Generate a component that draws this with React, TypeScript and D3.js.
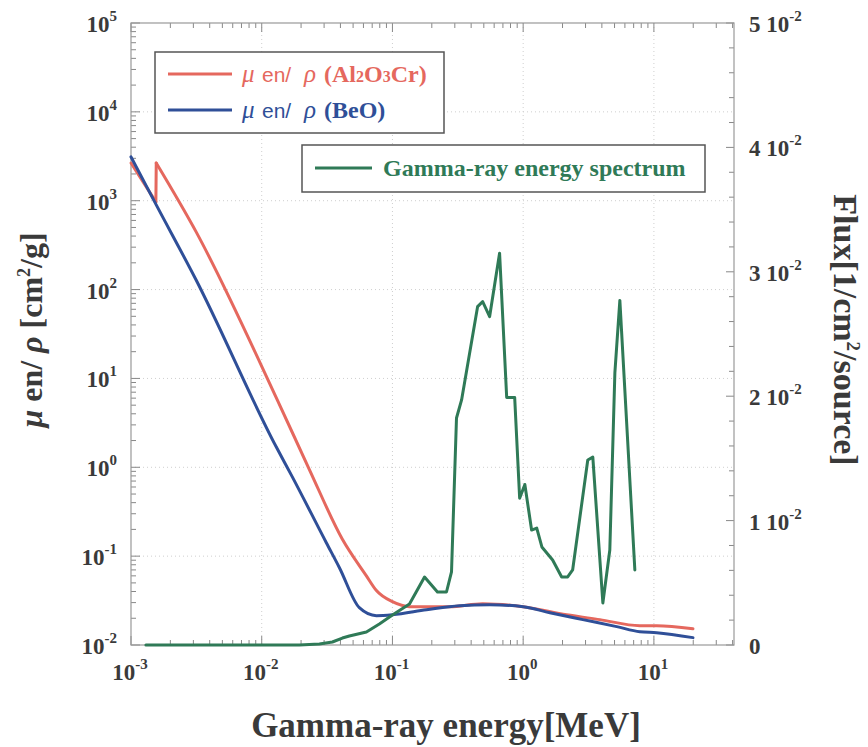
import React from "react";
import * as d3 from "d3";

// ---- data ----
// Al2O3Cr: below and above the Al K-edge
const energyAlLow = [0.001, 0.00155];
const muAlLow = [2660, 970];
const energyAlHigh = [0.00156, 0.00315, 0.01315, 0.0231, 0.0414, 0.0632, 0.0754, 0.1, 0.135, 0.273, 0.49, 1.0, 2.15, 3.86, 7.81, 10.5, 19.9];
const muAlHigh = [2660, 446, 5.74, 0.95, 0.155, 0.06, 0.041, 0.0307, 0.027, 0.027, 0.0292, 0.027, 0.0219, 0.0193, 0.0165, 0.0165, 0.0152];

const energyBeO = [0.001, 0.00156, 0.00315, 0.0129, 0.01714, 0.0312, 0.0393, 0.0558, 0.0754, 0.1, 0.182, 0.326, 0.553, 1.0, 1.6, 2.86, 5.2, 7.81, 10.5, 19.9];
const muBeO = [3110, 897, 128, 1.7, 0.78, 0.1416, 0.0741, 0.0263, 0.0214, 0.0219, 0.0249, 0.0277, 0.0284, 0.027, 0.0231, 0.0193, 0.0161, 0.0141, 0.01375, 0.0121];

const energySpec = [0.0013, 0.0194, 0.0276, 0.0347, 0.0414, 0.0468, 0.0632, 0.0794, 0.1, 0.135, 0.176, 0.221, 0.259, 0.283, 0.309, 0.338, 0.448, 0.49, 0.554, 0.66, 0.748, 0.861, 0.94, 1.03, 1.16, 1.27, 1.39, 1.68, 1.97, 2.19, 2.39, 3.12, 3.41, 4.07, 4.6, 5.03, 5.49, 7.15];
const fluxSpec = [0, 0, 0.00008, 0.00024, 0.00056, 0.00072, 0.00105, 0.00169, 0.00241, 0.0033, 0.00547, 0.00426, 0.00426, 0.00587, 0.01825, 0.0197, 0.0272, 0.0276, 0.0264, 0.0315, 0.0199, 0.0199, 0.0118, 0.0129, 0.00924, 0.0094, 0.00788, 0.00683, 0.00547, 0.00547, 0.00603, 0.01487, 0.0151, 0.00338, 0.00764, 0.0219, 0.0277, 0.00603];

const xTickExps = [-3, -2, -1, 0, 1];
const yTickExps = [-2, -1, 0, 1, 2, 3, 4, 5];
const fluxTickValues = [0, 0.01, 0.02, 0.03, 0.04, 0.05];
const fluxTickMantissa = ["0", "1", "2", "3", "4", "5"];

const legendBeOLabel = "(BeO)";
const legendSpecLabel = "Gamma-ray energy spectrum";
const xTitle = "Gamma-ray energy[MeV]";

const RED = "#e5685e";
const BLUE = "#2f4f98";
const GREEN = "#2f7a57";
const SERIF = "'Liberation Serif', 'Times New Roman', serif";
const SANS = "'Liberation Sans', Arial, sans-serif";

export default function App() {
  const L = 131, R = 734, T = 23, B = 645;
  const x = d3.scaleLog().domain([1e-3, 41]).range([L, R]);
  const y = d3.scaleLog().domain([1e-2, 1e5]).range([B, T]);
  const yr = d3.scaleLinear().domain([0, 0.05]).range([B, T]);

  const lineMono = d3.line<[number, number]>().x((d) => x(d[0])).y((d) => y(d[1])).curve(d3.curveMonotoneX);
  const lineLin = d3.line<[number, number]>().x((d) => x(d[0])).y((d) => y(d[1]));
  const lineR = d3.line<[number, number]>().x((d) => x(d[0])).y((d) => yr(d[1]));

  const alLow = energyAlLow.map((e, i) => [e, muAlLow[i]] as [number, number]);
  const alHigh = energyAlHigh.map((e, i) => [e, muAlHigh[i]] as [number, number]);
  const alEdge: [number, number][] = [alLow[alLow.length - 1], alHigh[0]];
  const beoPts = energyBeO.map((e, i) => [e, muBeO[i]] as [number, number]);
  const specPts = energySpec.map((e, i) => [e, fluxSpec[i]] as [number, number]);

  const xMinor: number[] = [];
  for (const d of xTickExps) for (let m = 2; m <= 9; m++) { const v = m * Math.pow(10, d); if (v < 41) xMinor.push(v); }
  const yMinor: number[] = [];
  for (const d of yTickExps.slice(0, -1)) for (let m = 2; m <= 9; m++) yMinor.push(m * Math.pow(10, d));
  const rMinor: number[] = [];
  for (let k = 1; k < 25; k++) if (k % 5 !== 0) rMinor.push(k * 0.002);

  const tickC = "#888";
  const gridC = "#cfcfcf";
  const labC = "#3a3a3a";

  const legendMu = (yy: number, color: string, tail: React.ReactNode) => (
    <g fill={color}>
      <text x={242} y={yy} fontFamily={SERIF} fontStyle="italic" fontSize={25}>μ</text>
      <text x={262} y={yy} fontFamily={SANS} fontSize={21}>en/</text>
      <text x={304} y={yy} fontFamily={SERIF} fontStyle="italic" fontSize={25}>ρ</text>
      <text x={324} y={yy} fontFamily={SERIF} fontWeight="bold" fontSize={24}>{tail}</text>
    </g>
  );

  return (
    <svg width={868} height={747} style={{ position: "absolute", left: 0, top: 0, background: "#fff" }} fontFamily={SERIF}>
      <rect x={0} y={0} width={868} height={747} fill="#fff" />
      {/* grid */}
      {xTickExps.slice(1).map((d) => (
        <line key={"gx" + d} x1={x(Math.pow(10, d))} x2={x(Math.pow(10, d))} y1={T} y2={B} stroke={gridC} strokeWidth={1} strokeDasharray="1,3" />
      ))}
      {yTickExps.slice(1, -1).map((d) => (
        <line key={"gy" + d} x1={L} x2={R} y1={y(Math.pow(10, d))} y2={y(Math.pow(10, d))} stroke={gridC} strokeWidth={1} strokeDasharray="1,3" />
      ))}
      {/* ticks */}
      {xTickExps.map((d) => {
        const px = x(Math.pow(10, d));
        return (
          <g key={"xt" + d}>
            <line x1={px} x2={px} y1={B} y2={B - 9} stroke={tickC} />
            <line x1={px} x2={px} y1={T} y2={T + 9} stroke={tickC} />
          </g>
        );
      })}
      {xMinor.map((v, i) => (
        <g key={"xm" + i}>
          <line x1={x(v)} x2={x(v)} y1={B} y2={B - 5} stroke={tickC} />
          <line x1={x(v)} x2={x(v)} y1={T} y2={T + 5} stroke={tickC} />
        </g>
      ))}
      {yTickExps.map((d) => (
        <line key={"yt" + d} x1={L} x2={L + 9} y1={y(Math.pow(10, d))} y2={y(Math.pow(10, d))} stroke={tickC} />
      ))}
      {yMinor.map((v, i) => (
        <line key={"ym" + i} x1={L} x2={L + 5} y1={y(v)} y2={y(v)} stroke={tickC} />
      ))}
      {fluxTickValues.map((v) => (
        <line key={"rt" + v} x1={R} x2={R - 8} y1={yr(v)} y2={yr(v)} stroke={tickC} />
      ))}
      {rMinor.map((v, i) => (
        <line key={"rm" + i} x1={R} x2={R - 5} y1={yr(v)} y2={yr(v)} stroke={tickC} />
      ))}
      {/* frame */}
      <rect x={L} y={T} width={R - L} height={B - T} fill="none" stroke="#999" strokeWidth={1.2} />

      {/* curves */}
      <g fill="none" strokeWidth={3} strokeLinejoin="round" strokeLinecap="round">
        <path d={lineLin(alLow) || ""} stroke={RED} />
        <path d={lineLin(alEdge) || ""} stroke={RED} />
        <path d={lineMono(alHigh) || ""} stroke={RED} />
        <path d={lineMono(beoPts) || ""} stroke={BLUE} />
        <path d={lineR(specPts) || ""} stroke={GREEN} />
      </g>

      {/* x tick labels */}
      {xTickExps.map((d) => (
        <text key={"xl" + d} x={x(Math.pow(10, d)) - 1} y={680} textAnchor="middle" fontSize={23} fontWeight="bold" fill={labC}>
          10<tspan dy={-11} fontSize={15}>{String(d)}</tspan>
        </text>
      ))}
      {/* left tick labels */}
      {yTickExps.map((d) => (
        <text key={"yl" + d} x={117} y={y(Math.pow(10, d)) + 9} textAnchor="end" fontSize={23} fontWeight="bold" fill={labC}>
          10<tspan dy={-11} fontSize={15}>{String(d)}</tspan>
        </text>
      ))}
      {/* right tick labels */}
      {fluxTickValues.map((v, i) => (
        <text key={"rl" + v} x={749} y={yr(v) + 9} textAnchor="start" fontSize={23} fontWeight="bold" fill={labC}>
          {i === 0 ? "0" : (
            <>
              {fluxTickMantissa[i] + " 10"}
              <tspan dy={-11} fontSize={15}>-2</tspan>
            </>
          )}
        </text>
      ))}

      {/* axis titles */}
      <text x={446} y={737} textAnchor="middle" fontSize={35} fontWeight="bold" fill={labC}>{xTitle}</text>
      <text transform={`translate(42,330) rotate(-90)`} textAnchor="middle" fontSize={32} fontWeight="bold" fill={labC}>
        <tspan fontStyle="italic">μ</tspan> en/ <tspan fontStyle="italic">ρ</tspan> [cm<tspan dy={-12} fontSize={18}>2</tspan><tspan dy={12}>/g]</tspan>
      </text>
      <text transform={`translate(834,330) rotate(90)`} textAnchor="middle" fontSize={34} fontWeight="bold" fill={labC}>
        Flux[1/cm<tspan dy={-13} fontSize={19}>2</tspan><tspan dy={13}>/source]</tspan>
      </text>

      {/* legend 1 */}
      <rect x={155} y={52} width={289} height={81} fill="#fff" stroke="#555" strokeWidth={1.5} />
      <line x1={168} x2={232} y1={74} y2={74} stroke={RED} strokeWidth={3} />
      {legendMu(82, RED, (
        <>
          (Al<tspan fontSize={16}>2</tspan>O<tspan fontSize={16}>3</tspan>Cr)
        </>
      ))}
      <line x1={168} x2={232} y1={110} y2={110} stroke={BLUE} strokeWidth={3} />
      {legendMu(118, BLUE, legendBeOLabel)}
      {/* legend 2 */}
      <rect x={302} y={145} width={403} height={47} fill="#fff" stroke="#555" strokeWidth={1.5} />
      <line x1={315} x2={372} y1={168} y2={168} stroke={GREEN} strokeWidth={3} />
      <text x={383} y={176} fontSize={24} fontWeight="bold" fill={GREEN}>{legendSpecLabel}</text>
    </svg>
  );
}
